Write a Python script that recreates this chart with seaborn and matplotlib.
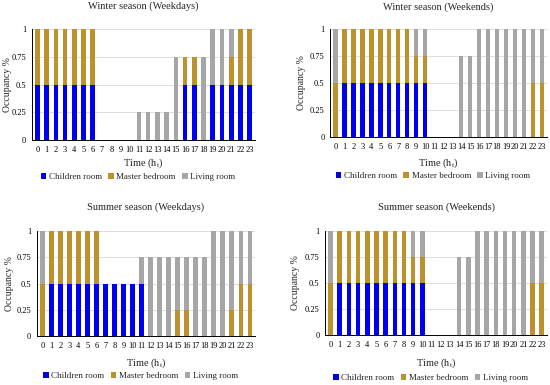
import matplotlib
matplotlib.use("Agg")
import matplotlib.pyplot as plt
import matplotlib.transforms as mtransforms
import seaborn as sns
import pandas as pd
from matplotlib.patches import Patch

sns.set_style("white")
plt.rcParams['font.family'] = ['Liberation Serif', 'DejaVu Serif']
plt.rcParams['mathtext.fontset'] = 'stix'

hours = [str(h) for h in range(24)]
series_names = ["Children room", "Master bedroom", "Living room"]
colors = ["#0000F0", "#BB922E", "#A6A6A6"]

titles = ["Winter season (Weekdays)", "Winter season (Weekends)",
          "Summer season (Weekdays)", "Summer season (Weekends)"]

ww_children = [0.5, 0.5, 0.5, 0.5, 0.5, 0.5, 0.5, 0, 0, 0, 0, 0, 0, 0, 0, 0, 0.5, 0.5, 0, 0.5, 0.5, 0.5, 0.5, 0.5]
ww_master   = [0.5, 0.5, 0.5, 0.5, 0.5, 0.5, 0.5, 0, 0, 0, 0, 0, 0, 0, 0, 0, 0.25, 0.25, 0, 0, 0, 0.25, 0.5, 0.5]
ww_living   = [0, 0, 0, 0, 0, 0, 0, 0, 0, 0, 0, 0.25, 0.25, 0.25, 0.25, 0.75, 0, 0, 0.75, 0.5, 0.5, 0.25, 0, 0]

we_children = [0, 0.5, 0.5, 0.5, 0.5, 0.5, 0.5, 0.5, 0.5, 0.5, 0.5, 0, 0, 0, 0, 0, 0, 0, 0, 0, 0, 0, 0, 0]
we_master   = [0.5, 0.5, 0.5, 0.5, 0.5, 0.5, 0.5, 0.5, 0.5, 0.25, 0.25, 0, 0, 0, 0, 0, 0, 0, 0, 0, 0, 0, 0.5, 0.5]
we_living   = [0.5, 0, 0, 0, 0, 0, 0, 0, 0, 0.25, 0.25, 0, 0, 0, 0.75, 0.75, 1, 1, 1, 1, 1, 1, 0.5, 0.5]

sw_children = [0, 0.5, 0.5, 0.5, 0.5, 0.5, 0.5, 0.5, 0.5, 0.5, 0.5, 0.5, 0, 0, 0, 0, 0, 0, 0, 0, 0, 0, 0, 0]
sw_master   = [0.5, 0.5, 0.5, 0.5, 0.5, 0.5, 0.5, 0, 0, 0, 0, 0, 0, 0, 0, 0.25, 0.25, 0, 0, 0, 0, 0.25, 0.5, 0.5]
sw_living   = [0.5, 0, 0, 0, 0, 0, 0, 0, 0, 0, 0, 0.25, 0.75, 0.75, 0.75, 0.5, 0.5, 0.75, 0.75, 1, 1, 0.75, 0.5, 0.5]

se_children = [0, 0.5, 0.5, 0.5, 0.5, 0.5, 0.5, 0.5, 0.5, 0.5, 0.5, 0, 0, 0, 0, 0, 0, 0, 0, 0, 0, 0, 0, 0]
se_master   = [0.5, 0.5, 0.5, 0.5, 0.5, 0.5, 0.5, 0.5, 0.5, 0.25, 0.25, 0, 0, 0, 0, 0, 0, 0, 0, 0, 0, 0, 0.5, 0.5]
se_living   = [0.5, 0, 0, 0, 0, 0, 0, 0, 0, 0.25, 0.25, 0, 0, 0, 0.75, 0.75, 1, 1, 1, 1, 1, 1, 0.5, 0.5]

datasets = [(ww_children, ww_master, ww_living),
            (we_children, we_master, we_living),
            (sw_children, sw_master, sw_living),
            (se_children, se_master, se_living)]

# axes rectangles [left, bottom, width, height] in figure fraction
rects = [[0.058, 0.636, 0.406, 0.289],
         [0.600, 0.644, 0.395, 0.281],
         [0.067, 0.127, 0.397, 0.273],
         [0.591, 0.130, 0.404, 0.270]]
title_y = [0.984, 0.982, 0.462, 0.462]
xlabel_y = [0.577, 0.577, 0.057, 0.057]
legend_y = [0.540, 0.543, 0.023, 0.018]
ylabel_x = [0.013, 0.549, 0.018, 0.537]

fig = plt.figure(figsize=(5.5, 3.85), dpi=100)

for i, (rect, (ch, ma, li)) in enumerate(zip(rects, datasets)):
    ax = fig.add_axes(rect)
    df = pd.DataFrame({"hour": hours, "c": ch, "m": ma, "l": li})
    df["cm"] = df["c"] + df["m"]
    df["cml"] = df["cm"] + df["l"]
    for col, colr in [("cml", colors[2]), ("cm", colors[1]), ("c", colors[0])]:
        sns.barplot(data=df, x="hour", y=col, order=hours, color=colr,
                    width=0.5, saturation=1, errorbar=None, ax=ax,
                    linewidth=0, zorder=3)
    ax.set_ylim(0, 1)
    ax.set_xlim(-0.6, 23.6)
    ax.set_yticks([0, 0.25, 0.5, 0.75, 1])
    ax.set_yticklabels(["0", "0.25", "0.5", "0.75", "1"])
    ax.yaxis.grid(True, color="#D9D9D9", linewidth=0.6, zorder=0)
    ax.set_axisbelow(True)
    for s in ["top", "right"]:
        ax.spines[s].set_visible(False)
    for s in ["left", "bottom"]:
        ax.spines[s].set_color("black")
        ax.spines[s].set_linewidth(0.7)
    ax.tick_params(axis="both", labelsize=6, length=2, width=0.6, pad=2,
                   color="black", labelcolor="black")
    ax.set_xlabel("")
    ax.set_ylabel("Occupancy %", fontsize=7)
    tr = mtransforms.blended_transform_factory(fig.transFigure, ax.transAxes)
    ax.yaxis.set_label_coords(ylabel_x[i], 0.5, transform=tr)
    ax.yaxis.label.set_va("center")
    left, bottom, w, h = rect
    cx = left + w / 2
    fig.text(cx, title_y[i], titles[i], ha="center", va="center", fontsize=7.5)
    fig.text(cx, xlabel_y[i], "Time (h$_\\mathregular{t}$)", ha="center",
             va="center", fontsize=7.5)
    handles = [Patch(facecolor=c, edgecolor="none") for c in colors]
    fig.legend(handles, series_names, loc="center", ncol=3,
               bbox_to_anchor=(cx - 0.01, legend_y[i]), bbox_transform=fig.transFigure,
               frameon=False, fontsize=6.5, handlelength=0.6, handleheight=0.6,
               handletextpad=0.3, columnspacing=0.7, borderpad=0)

fig.savefig("out.png", dpi=100)
